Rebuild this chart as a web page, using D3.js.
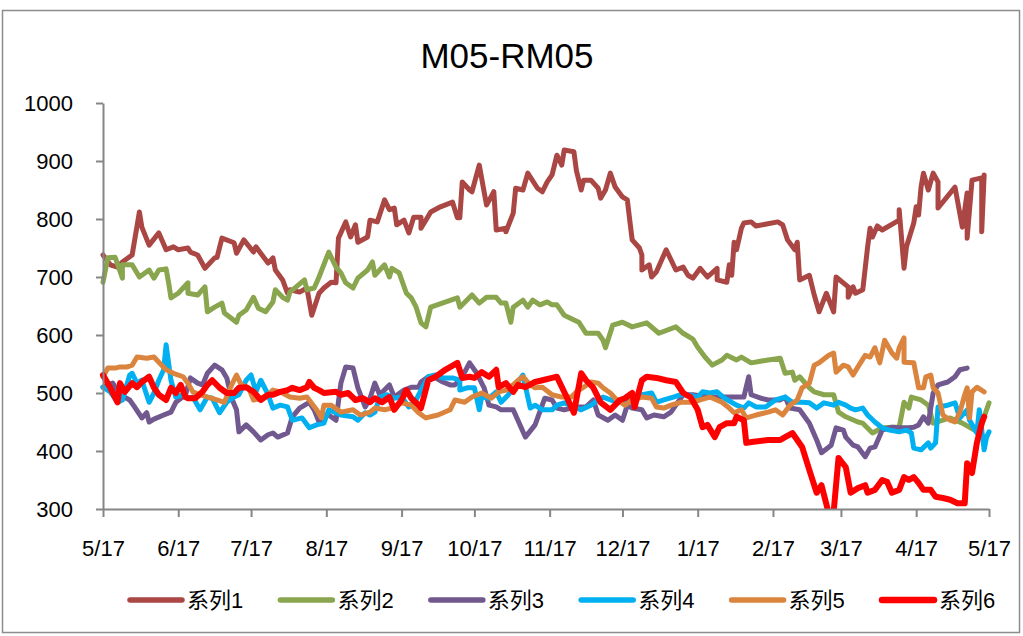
<!DOCTYPE html>
<html>
<head>
<meta charset="utf-8">
<script src="https://cdn.jsdelivr.net/npm/d3@7"></script>
<style>
  html, body { margin: 0; padding: 0; background: #fff; }
  svg { display: block; }
</style>
</head>
<body>
<svg id="chart" width="1023" height="636"></svg>
<script>
// Spread series, 2016-05-17 .. 2017-05-17. Each point: [days since start, value]
const startDate = "2016-05-17";
const endDate = "2017-05-17";
const tickDates = ["2016-05-17","2016-06-17","2016-07-17","2016-08-17","2016-09-17","2016-10-17",
  "2016-11-17","2016-12-17","2017-01-17","2017-02-17","2017-03-17","2017-04-17","2017-05-17"];
const yTicks = [300, 400, 500, 600, 700, 800, 900, 1000];
const titleText = "M05-RM05";
const seriesNames = ["系列1", "系列2", "系列3", "系列4", "系列5", "系列6"];

const series1 = [[0,738],[3,721],[6,717],[8,726],[12,738],[15,812],[16,786],[19,755],[23,776],[26,747],[29,752],[31,747],[35,750],[36,743],[39,738],[42,715],[46,733],[47,734],[49,767],[54,759],[55,741],[58,764],[62,743],[63,752],[68,724],[70,733],[71,712],[74,695],[76,672],[77,678],[81,674],[84,681],[86,634],[89,672],[91,681],[94,691],[96,690],[97,767],[100,795],[102,769],[104,790],[105,760],[109,769],[110,798],[113,795],[116,833],[118,816],[120,819],[121,790],[124,798],[126,776],[128,803],[131,803],[131,784],[133,798],[135,812],[139,821],[144,829],[146,802],[147,802],[148,864],[151,850],[152,847],[155,893],[158,824],[161,847],[162,781],[166,784],[166,778],[169,810],[170,853],[173,850],[175,879],[179,853],[181,847],[183,864],[185,876],[187,910],[189,893],[190,919],[194,916],[195,884],[197,850],[198,867],[201,867],[204,853],[205,836],[207,850],[209,879],[211,855],[214,838],[216,833],[217,798],[218,764],[221,750],[222,738],[222,712],[225,721],[226,700],[228,709],[232,747],[236,712],[239,717],[241,703],[243,698],[246,715],[249,700],[253,715],[253,695],[257,691],[258,721],[259,703],[260,760],[261,747],[263,784],[264,793],[267,795],[269,788],[278,795],[280,790],[282,764],[285,747],[286,760],[287,695],[291,703],[293,669],[295,640],[298,672],[301,640],[302,700],[307,683],[307,665],[309,683],[310,672],[313,678],[315,752],[316,784],[317,769],[319,788],[321,781],[328,798],[328,816],[330,715],[331,752],[334,793],[335,821],[336,807],[337,855],[338,879],[340,850],[342,879],[344,864],[344,819],[351,855],[354,786],[356,845],[356,767],[358,867],[362,871],[362,778],[363,876]];

const series2 = [[0,691],[2,733],[5,734],[8,698],[8,721],[12,721],[15,700],[19,712],[21,698],[23,712],[26,714],[27,691],[28,664],[31,672],[35,690],[35,672],[39,669],[42,683],[43,640],[46,648],[49,655],[50,638],[55,622],[56,634],[59,643],[62,665],[64,646],[67,640],[70,657],[71,678],[74,665],[76,660],[77,674],[83,695],[84,678],[87,681],[89,700],[93,743],[96,717],[98,707],[100,690],[103,681],[105,698],[109,712],[111,726],[112,703],[116,721],[118,700],[119,715],[122,707],[125,672],[127,664],[129,648],[131,621],[133,614],[135,648],[146,664],[147,648],[152,669],[155,655],[158,665],[162,665],[164,655],[166,655],[168,622],[169,648],[173,660],[175,648],[177,660],[180,652],[183,657],[185,652],[187,652],[190,634],[196,622],[199,603],[204,603],[206,591],[207,578],[210,617],[214,622],[218,614],[224,621],[229,603],[236,614],[239,603],[243,593],[245,579],[248,562],[251,548],[255,557],[257,565],[261,557],[263,562],[267,552],[274,557],[279,560],[281,534],[284,536],[285,522],[287,528],[291,509],[293,502],[297,497],[301,497],[303,467],[306,459],[311,450],[313,448],[317,431],[321,440],[326,441],[328,441],[330,484],[332,474],[333,493],[337,488],[340,479],[342,448],[349,457],[354,448],[359,436],[361,431],[363,459],[365,483]];

const series3 = [[0,510],[4,517],[7,497],[11,488],[13,476],[16,457],[18,466],[19,450],[21,455],[25,462],[28,467],[30,484],[34,497],[36,526],[39,517],[41,514],[43,534],[46,548],[49,540],[51,526],[53,491],[55,471],[56,433],[59,445],[62,433],[65,419],[68,428],[70,431],[72,424],[76,431],[78,459],[81,474],[85,484],[87,471],[89,450],[91,459],[93,462],[96,453],[98,517],[100,545],[103,543],[105,509],[108,476],[110,491],[112,517],[114,497],[118,514],[120,493],[124,505],[127,510],[130,510],[131,519],[134,528],[137,526],[140,519],[143,514],[145,514],[148,528],[151,552],[154,534],[157,509],[159,479],[162,476],[164,471],[169,471],[174,424],[178,445],[182,491],[185,488],[187,474],[190,471],[195,476],[199,476],[202,488],[204,462],[208,453],[211,462],[214,453],[216,479],[218,474],[222,471],[224,457],[227,462],[231,459],[234,467],[236,479],[239,497],[243,497],[249,493],[256,493],[261,493],[264,493],[266,528],[267,497],[271,491],[274,488],[279,488],[281,493],[283,474],[287,471],[291,448],[294,419],[296,397],[300,410],[302,440],[305,436],[306,424],[309,410],[311,407],[314,390],[316,405],[318,407],[321,436],[325,441],[328,440],[332,440],[334,441],[336,445],[338,459],[340,448],[342,500],[344,514],[348,519],[351,528],[353,540],[356,543]];

const series4 = [[0,510],[3,502],[6,484],[8,488],[11,531],[12,534],[14,517],[16,522],[19,484],[21,500],[23,522],[25,540],[26,583],[28,522],[30,493],[33,497],[35,491],[37,493],[40,471],[43,493],[45,491],[48,466],[51,484],[54,493],[56,497],[59,522],[61,531],[63,502],[65,522],[68,497],[70,474],[73,479],[76,476],[78,453],[82,457],[85,440],[88,445],[91,448],[93,471],[98,462],[103,459],[105,453],[108,466],[110,462],[112,467],[114,493],[117,497],[120,491],[123,493],[126,476],[129,488],[131,505],[134,528],[137,531],[140,526],[144,526],[147,522],[147,505],[150,509],[153,509],[155,471],[156,493],[159,491],[162,502],[164,484],[167,497],[170,514],[173,531],[176,474],[178,479],[181,471],[183,471],[185,471],[187,479],[190,483],[194,476],[197,471],[201,479],[204,488],[206,493],[212,484],[216,484],[222,497],[226,500],[228,484],[231,488],[235,493],[238,497],[241,497],[245,493],[247,502],[250,500],[253,502],[256,491],[259,484],[261,479],[264,474],[266,483],[269,476],[273,476],[277,488],[281,493],[284,484],[288,484],[291,483],[294,474],[297,483],[301,479],[303,484],[306,479],[308,474],[310,471],[313,474],[315,462],[318,450],[321,440],[324,436],[328,433],[331,436],[333,431],[334,405],[337,402],[340,414],[341,405],[343,414],[344,476],[348,479],[351,483],[353,457],[356,471],[357,453],[360,431],[361,471],[363,402],[364,424],[365,433]];

const series5 = [[0,528],[2,543],[5,543],[7,545],[10,545],[12,548],[14,562],[18,560],[21,562],[23,553],[26,540],[29,534],[33,528],[35,517],[37,502],[40,497],[43,493],[47,488],[50,484],[53,514],[55,531],[57,514],[60,509],[62,488],[65,491],[68,497],[70,505],[73,502],[77,493],[81,491],[84,493],[88,471],[90,457],[91,479],[94,479],[98,467],[103,471],[106,462],[110,467],[112,474],[116,471],[119,474],[123,483],[127,479],[130,466],[133,457],[138,462],[143,471],[145,488],[149,484],[152,493],[156,500],[160,491],[163,502],[166,505],[169,514],[171,522],[173,528],[176,514],[178,509],[181,510],[185,497],[189,493],[193,493],[195,502],[198,510],[201,519],[204,517],[206,509],[209,500],[211,491],[215,479],[218,488],[222,493],[226,491],[228,476],[231,474],[234,479],[238,484],[242,484],[246,488],[250,493],[255,484],[258,474],[260,466],[263,471],[265,457],[269,462],[274,467],[277,471],[280,462],[283,479],[286,488],[288,509],[291,517],[293,548],[295,552],[299,565],[301,569],[302,536],[305,548],[307,545],[309,531],[311,545],[314,565],[316,562],[318,578],[320,552],[322,591],[325,569],[327,560],[328,578],[330,595],[330,553],[334,552],[336,509],[338,509],[339,528],[341,531],[342,509],[344,500],[346,462],[349,453],[351,450],[353,467],[355,497],[356,509],[357,457],[358,502],[360,510],[363,502]];

const series6 = [[0,531],[3,509],[6,484],[7,517],[9,502],[12,517],[14,510],[16,519],[19,528],[21,509],[23,497],[26,488],[28,509],[30,500],[32,514],[34,493],[35,491],[38,491],[41,502],[43,514],[45,522],[48,509],[51,500],[54,500],[56,509],[59,510],[62,502],[65,488],[68,497],[70,497],[73,502],[76,505],[78,509],[81,505],[84,510],[85,519],[87,509],[89,505],[91,500],[96,502],[98,497],[101,500],[104,488],[107,491],[110,484],[112,491],[115,484],[118,493],[120,471],[123,488],[125,505],[127,491],[130,479],[131,474],[134,522],[137,528],[141,540],[146,552],[148,526],[151,528],[153,526],[156,536],[159,528],[162,540],[163,510],[166,517],[169,502],[171,514],[174,510],[178,519],[181,522],[185,526],[187,528],[191,493],[194,466],[197,534],[199,522],[202,509],[205,484],[209,471],[213,488],[215,491],[218,500],[219,476],[222,522],[224,528],[228,526],[232,522],[236,519],[239,500],[242,493],[245,471],[247,441],[249,445],[252,424],[254,441],[257,448],[260,448],[261,459],[264,453],[265,414],[268,416],[274,419],[279,419],[281,424],[284,431],[288,407],[291,367],[294,328],[296,341],[299,292],[301,295],[303,388],[306,372],[308,328],[311,336],[314,341],[315,328],[318,333],[321,350],[323,347],[325,328],[328,333],[330,355],[332,350],[334,355],[336,345],[338,333],[341,333],[343,321],[346,319],[349,316],[352,310],[355,310],[356,379],[358,362],[360,414],[362,448],[363,459]];

const allSeries = [series1, series2, series3, series4, series5, series6];
const colors = ["#AA4643", "#89A54E", "#71588F", "#00B0F0", "#DB843D", "#FF0000"];
const widths = [5, 5, 5, 5, 5, 6];

const parse = d3.timeParse("%Y-%m-%d");
const t0 = parse(startDate);
const svg = d3.select("#chart");
const FONT = "'Liberation Sans', Arial, 'Noto Sans CJK SC', sans-serif";

// chart frame
svg.append("rect")
  .attr("x", 2.5).attr("y", 10.5).attr("width", 1017).attr("height", 622)
  .attr("fill", "#fff").attr("stroke", "#8c8c8c").attr("stroke-width", 1.5);

const plot = { left: 103, right: 989, top: 103, bottom: 509 };
const x = d3.scaleTime().domain([t0, parse(endDate)]).range([plot.left, plot.right]);
const y = d3.scaleLinear().domain([300, 1000]).range([plot.bottom, plot.top]);

// title
svg.append("text")
  .attr("x", 507).attr("y", 68)
  .attr("text-anchor", "middle")
  .attr("font-family", FONT).attr("font-size", 35)
  .attr("fill", "#000")
  .text(titleText);

// axes
const yAxis = d3.axisLeft(y).tickValues(yTicks).tickSize(7).tickSizeOuter(0).tickPadding(23)
  .tickFormat(d3.format("d"));
const xAxis = d3.axisBottom(x).tickValues(tickDates.map(parse)).tickSize(8).tickSizeOuter(0)
  .tickPadding(23).tickFormat(d3.timeFormat("%-m/%-d"));

function styleAxis(g) {
  g.selectAll("path, line").attr("stroke", "#868686").attr("stroke-width", 2);
  g.selectAll("text").attr("font-family", FONT).attr("font-size", 22).attr("fill", "#000");
}

// clip lines to the plot box vertically
svg.append("clipPath").attr("id", "plotClip")
  .append("rect").attr("x", 0).attr("y", 0).attr("width", 1023).attr("height", plot.bottom);

const line = d3.line()
  .x(d => x(d3.timeDay.offset(t0, d[0])))
  .y(d => y(d[1]));

const lines = svg.append("g").attr("clip-path", "url(#plotClip)");
allSeries.forEach((s, i) => {
  lines.append("path")
    .datum(s)
    .attr("fill", "none")
    .attr("stroke", colors[i])
    .attr("stroke-width", widths[i])
    .attr("stroke-linejoin", "round")
    .attr("stroke-linecap", "round")
    .attr("d", line);
});

svg.append("g").attr("transform", `translate(${plot.left},0)`).call(yAxis).call(styleAxis);
svg.append("g").attr("transform", `translate(0,${plot.bottom})`).call(xAxis).call(styleAxis);

// legend
const legend = svg.append("g").attr("transform", "translate(128,600)");
seriesNames.forEach((name, i) => {
  const g = legend.append("g").attr("transform", `translate(${i * 150.4},0)`);
  g.append("line")
    .attr("x1", 2).attr("x2", 54).attr("y1", 0).attr("y2", 0)
    .attr("stroke", colors[i]).attr("stroke-width", widths[i] + 0.5)
    .attr("stroke-linecap", "round");
  g.append("text")
    .attr("x", 59).attr("y", 8)
    .attr("font-family", FONT).attr("font-size", 22).attr("fill", "#000")
    .text(name);
});
</script>
</body>
</html>
